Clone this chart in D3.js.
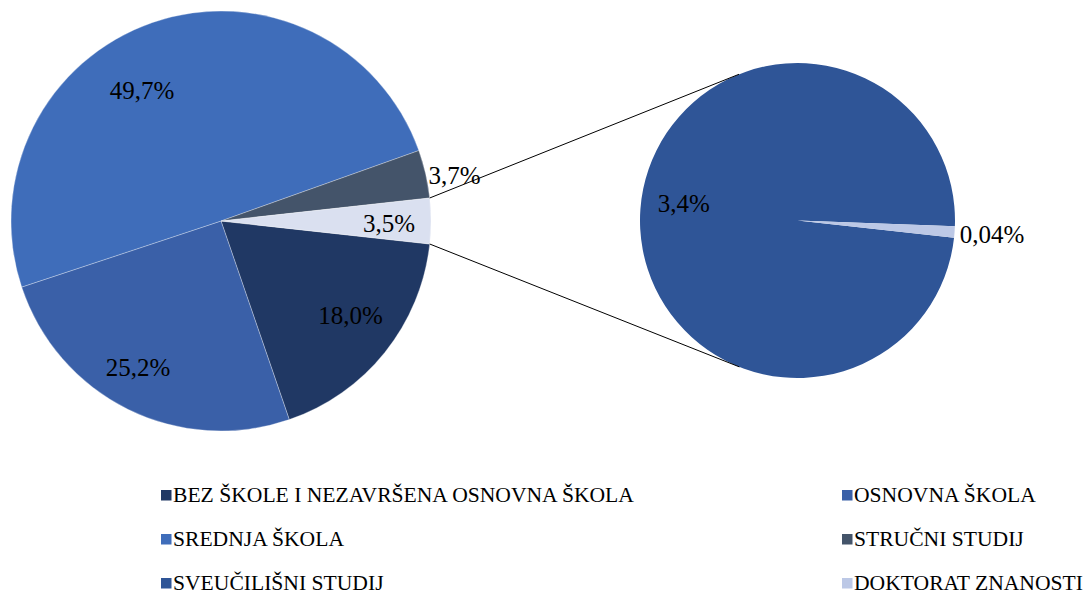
<!DOCTYPE html>
<html>
<head>
<meta charset="utf-8">
<script src="https://cdn.jsdelivr.net/npm/d3@7"></script>
<style>
  html, body { margin: 0; padding: 0; background: #fff; }
  svg { display: block; }
</style>
</head>
<body>
<svg id="chart" width="1086" height="595"></svg>
<script>
// ---- data ----
const categories = [
  "BEZ ŠKOLE I NEZAVRŠENA OSNOVNA ŠKOLA",
  "OSNOVNA ŠKOLA",
  "SREDNJA ŠKOLA",
  "STRUČNI STUDIJ",
  "SVEUČILIŠNI STUDIJ",
  "DOKTORAT ZNANOSTI"
];
const values = [18.0, 25.2, 49.7, 3.7, 3.4, 0.04];
const mainCategories = ["BEZ ŠKOLE I NEZAVRŠENA OSNOVNA ŠKOLA", "OSNOVNA ŠKOLA", "SREDNJA ŠKOLA", "STRUČNI STUDIJ", "OSTALO"];
const mainValues = [18.0, 25.2, 49.7, 3.7, 3.5];
const secondCategories = ["SVEUČILIŠNI STUDIJ", "DOKTORAT ZNANOSTI"];
const secondValues = [3.4, 0.04];
const colors = ["#203864", "#3A60A8", "#3F6DBA", "#44546A", "#2F5597", "#BCC8E6"];
const otherColor = "#DAE0F0";

// ---- layout ----
const svg = d3.select("#chart");
const font = "'Times New Roman', 'Liberation Serif', serif";
const C1 = {x: 221, y: 221, r: 210};
const C2 = {x: 797.5, y: 220.5, r: 157.5};
const fmt = v => (v < 0.1 ? v.toFixed(2) : v.toFixed(1)).replace(".", ",") + "%";

const otherValue = mainValues[mainValues.length - 1];
const mainTotal = d3.sum(mainValues);
const startA = Math.PI / 2 + (otherValue / mainTotal) * Math.PI;

const colorOf = name => {
  const i = categories.indexOf(name);
  return i >= 0 ? colors[i] : otherColor;
};

// main pie
const pie1 = d3.pie().sort(null).startAngle(startA).endAngle(startA + 2 * Math.PI);
const arcs1 = pie1(mainValues);
const arc1 = d3.arc().innerRadius(0).outerRadius(C1.r);
const g1 = svg.append("g").attr("transform", `translate(${C1.x},${C1.y})`);
g1.selectAll("path").data(arcs1).join("path")
  .attr("d", arc1)
  .attr("fill", (d, i) => colorOf(mainCategories[i]))
  .attr("stroke", "#ffffff").attr("stroke-width", 0.6).attr("stroke-opacity", 0.5);

// second pie
const pie2 = d3.pie().sort(null).startAngle(startA).endAngle(startA + 2 * Math.PI);
const arcs2 = pie2(secondValues);
const arc2 = d3.arc().innerRadius(0).outerRadius(C2.r);
const g2 = svg.append("g").attr("transform", `translate(${C2.x},${C2.y})`);
g2.selectAll("path").data(arcs2).join("path")
  .attr("d", arc2)
  .attr("fill", (d, i) => colorOf(secondCategories[i]));

// connector lines: from edges of "other" slice, tangent to second pie
const other = arcs1[arcs1.length - 1];
function tangentPoint(P, upper) {
  const dx = P[0] - C2.x, dy = P[1] - C2.y;
  const d = Math.hypot(dx, dy);
  const phi = Math.atan2(dy, dx);
  const a = Math.acos(C2.r / d);
  const cands = [phi + a, phi - a].map(t => [C2.x + C2.r * Math.cos(t), C2.y + C2.r * Math.sin(t)]);
  cands.sort((p, q) => p[1] - q[1]);
  return upper ? cands[0] : cands[1];
}
const pTop = d3.pointRadial(other.startAngle, C1.r).map((v, i) => v + (i ? C1.y : C1.x));
const pBot = d3.pointRadial(other.endAngle, C1.r).map((v, i) => v + (i ? C1.y : C1.x));
const tTop = tangentPoint(pTop, true);
const tBot = tangentPoint(pBot, false);
[[pTop, tTop], [pBot, tBot]].forEach(([a, b]) => {
  svg.append("line")
    .attr("x1", a[0]).attr("y1", a[1]).attr("x2", b[0]).attr("y2", b[1])
    .attr("stroke", "#000").attr("stroke-width", 1);
});

// labels (polar placement: angle in degrees clockwise from 12 o'clock, radius)
const mainLabelPolar = [[125.9, 160], [209.6, 168], [-31.1, 153], [78.9, 238], [90.7, 168]];
const secondLabelPolar = [[-81.2, 115], [94, 195]];
function addLabels(center, vals, polar) {
  vals.forEach((v, i) => {
    const p = d3.pointRadial(polar[i][0] * Math.PI / 180, polar[i][1]);
    svg.append("text")
      .attr("x", center.x + p[0]).attr("y", center.y + p[1])
      .attr("dy", "0.35em")
      .attr("text-anchor", "middle")
      .attr("font-family", font).attr("font-size", 25)
      .attr("fill", "#000")
      .text(fmt(v));
  });
}
addLabels(C1, mainValues, mainLabelPolar);
addLabels(C2, secondValues, secondLabelPolar);

// legend
const legendCols = [161, 842];
const legendRows = [502, 546, 590];
const lg = svg.append("g");
categories.forEach((name, i) => {
  const col = i % 2, row = Math.floor(i / 2);
  const x = legendCols[col], y = legendRows[row];
  lg.append("rect").attr("x", x).attr("y", y - 12).attr("width", 10.5).attr("height", 10.5)
    .attr("fill", colors[i]);
  lg.append("text").attr("x", x + 12).attr("y", y)
    .attr("font-family", font).attr("font-size", 21.6).attr("fill", "#000")
    .text(name);
});
</script>
</body>
</html>
